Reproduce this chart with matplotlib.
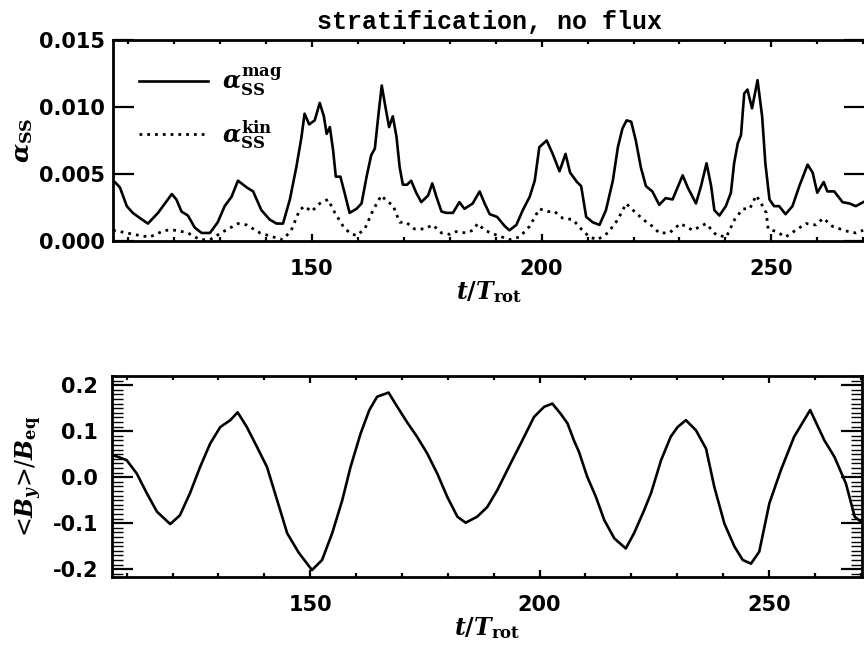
import numpy as np
import matplotlib
matplotlib.use("Agg")
import matplotlib.pyplot as plt
from matplotlib.ticker import MultipleLocator, FormatStrFormatter

# alpha_SS (magnetic), solid curve
t_mag = [106.7, 107.1, 108.2, 109.7, 111.0, 112.6, 114.3, 116.5, 118.0, 119.5,
         120.5, 121.6, 123.0, 124.5, 126.0, 127.8, 129.5, 131.0, 132.5, 133.9,
         135.8, 137.2, 139.0, 140.8, 142.3, 143.7, 145.2, 146.6, 147.7, 148.4,
         149.4, 150.6, 151.7, 152.6, 153.2, 153.9, 154.6, 155.2, 156.2, 157.1,
         158.2, 159.7, 160.8, 161.9, 162.9, 163.7, 164.5, 165.2, 166.0, 166.8,
         167.6, 168.4, 169.1, 169.8, 170.7, 171.6, 172.7, 173.8, 175.3, 176.2,
         177.1, 178.2, 179.2, 180.7, 182.1, 183.2, 185.0, 186.5, 187.6, 188.7,
         190.3, 192.0, 193.0, 194.5, 195.9, 197.4, 198.5, 199.5, 201.1, 202.4,
         203.9, 205.2, 206.2, 207.7, 208.6, 209.7, 211.1, 212.6, 214.0, 215.5,
         216.6, 217.6, 218.5, 219.5, 220.5, 221.6, 222.7, 224.1, 225.6, 227.0,
         228.5, 230.7, 231.8, 233.6, 234.7, 235.9, 236.9, 237.6, 238.7, 240.1,
         241.2, 241.9, 242.7, 243.4, 244.1, 244.8, 245.8, 247.0, 248.0, 248.7,
         249.6, 250.6, 251.7, 253.1, 254.6, 256.1, 257.9, 259.0, 260.0, 261.4,
         262.2, 263.7, 265.5, 267.0, 268.4, 270.0]
a_mag = [0.0043, 0.0044, 0.0040, 0.0026, 0.0021, 0.0017, 0.0013, 0.0021, 0.0028, 0.0035,
         0.0031, 0.0022, 0.0019, 0.0010, 0.0006, 0.0006, 0.0014, 0.0026, 0.0033, 0.0045,
         0.0040, 0.0037, 0.0023, 0.0016, 0.0013, 0.0013, 0.0031, 0.0055, 0.0077, 0.0095,
         0.0087, 0.0090, 0.0103, 0.0093, 0.0080, 0.0085, 0.0068, 0.0048, 0.0048, 0.0036,
         0.0021, 0.0024, 0.0028, 0.0048, 0.0064, 0.0069, 0.0095, 0.0116, 0.0100, 0.0085,
         0.0093, 0.0078, 0.0055, 0.0042, 0.0042, 0.0045, 0.0036, 0.0029, 0.0034, 0.0043,
         0.0033, 0.0022, 0.0021, 0.0021, 0.0029, 0.0024, 0.0028, 0.0037, 0.0028, 0.0020,
         0.0018, 0.0011, 0.0008, 0.0012, 0.0023, 0.0033, 0.0045, 0.0070, 0.0075, 0.0065,
         0.0052, 0.0065, 0.0051, 0.0044, 0.0041, 0.0018, 0.0014, 0.0012, 0.0023, 0.0045,
         0.0070, 0.0084, 0.0090, 0.0089, 0.0075, 0.0055, 0.0041, 0.0037, 0.0027, 0.0032,
         0.0031, 0.0049, 0.0040, 0.0028, 0.0041, 0.0058, 0.0041, 0.0023, 0.0019, 0.0026,
         0.0036, 0.0058, 0.0073, 0.0079, 0.0110, 0.0113, 0.0099, 0.0120, 0.0093, 0.0058,
         0.0031, 0.0026, 0.0026, 0.0020, 0.0026, 0.0041, 0.0057, 0.0051, 0.0036, 0.0044,
         0.0037, 0.0037, 0.0029, 0.0028, 0.0026, 0.0029]

# alpha_SS (kinetic), dotted curve
t_kin = [106.7, 109.7, 112.6, 114.7, 118.0, 120.5, 123.0, 125.6, 127.8, 130.7,
         133.9, 135.8, 138.7, 141.6, 143.7, 145.5, 147.3, 148.4, 149.9, 151.7,
         153.5, 155.0, 156.8, 158.2, 159.7, 161.5, 163.3, 165.1, 166.5, 167.6,
         169.1, 170.5, 172.3, 174.5, 176.3, 178.2, 180.0, 181.4, 183.6, 185.0,
         186.1, 187.6, 190.1, 193.0, 195.2, 197.4, 199.5, 201.3, 202.8, 204.6,
         206.8, 208.6, 210.4, 212.2, 214.4, 216.6, 218.4, 219.9, 222.1, 224.1,
         225.6, 227.8, 230.2, 232.9, 235.8, 238.0, 240.2, 242.0, 243.8, 245.3,
         246.7, 247.8, 248.9, 249.3, 251.1, 253.1, 255.3, 257.5, 259.7, 261.3,
         263.3, 266.2, 268.4, 270.0]
a_kin = [0.0008, 0.0006, 0.0004, 0.0003, 0.0008, 0.0008, 0.0006, 0.0001, 0.0001, 0.0007,
         0.0013, 0.0012, 0.0006, 0.0003, 0.0001, 0.0008, 0.0023, 0.0026, 0.0022, 0.0028,
         0.0031, 0.0021, 0.0011, 0.0006, 0.0004, 0.0009, 0.0023, 0.0034, 0.0029, 0.0027,
         0.0014, 0.0014, 0.0009, 0.0009, 0.0012, 0.0006, 0.0005, 0.0007, 0.0006, 0.0008,
         0.0013, 0.0008, 0.00045, 0.0001, 0.0003, 0.0011, 0.0024, 0.0022, 0.0022, 0.0017,
         0.0016, 0.0009, 0.0003, 0.0001, 0.0006, 0.0016, 0.0028, 0.0023, 0.0016, 0.0011,
         0.0006, 0.0006, 0.0013, 0.0008, 0.0013, 0.00045, 0.0003, 0.0016, 0.0024, 0.0024,
         0.0034, 0.0028, 0.0021, 0.0009, 0.0007, 0.0003, 0.0008, 0.0013, 0.0012, 0.0017,
         0.0011, 0.00075, 0.0006, 0.0008]

# <B_y>/B_eq
t_by = [106.8, 108.2, 110.0, 112.2, 114.4, 116.6, 119.5, 121.6, 123.8, 126.0,
        128.2, 130.4, 132.6, 134.2, 136.2, 138.4, 140.6, 142.8, 145.0, 147.5,
        150.4, 152.6, 154.8, 157.0, 158.8, 161.0, 162.9, 164.6, 167.1, 169.0,
        171.1, 173.3, 175.5, 177.7, 179.9, 182.1, 183.9, 186.4, 188.6, 190.8,
        193.7, 195.9, 198.8, 201.0, 202.8, 204.6, 206.1, 207.5, 208.6, 210.4,
        212.3, 214.1, 216.3, 218.8, 220.6, 222.8, 224.3, 226.5, 228.6, 230.1,
        231.9, 234.1, 236.3, 238.1, 240.3, 242.5, 244.3, 246.1, 247.9, 250.1,
        252.6, 255.5, 259.0, 262.1, 264.3, 266.8, 268.7, 270.5]
by = [0.048, 0.044, 0.037, 0.008, -0.035, -0.075, -0.102, -0.083, -0.035, 0.022,
      0.073, 0.109, 0.124, 0.141, 0.109, 0.066, 0.022, -0.050, -0.122, -0.164,
      -0.202, -0.180, -0.122, -0.050, 0.022, 0.095, 0.146, 0.175, 0.184, 0.153,
      0.120, 0.088, 0.052, 0.008, -0.043, -0.086, -0.099, -0.086, -0.065, -0.028,
      0.030, 0.073, 0.131, 0.153, 0.160, 0.138, 0.117, 0.080, 0.055, 0.001,
      -0.043, -0.093, -0.133, -0.155, -0.122, -0.072, -0.035, 0.037, 0.088, 0.109,
      0.124, 0.102, 0.062, -0.021, -0.101, -0.151, -0.180, -0.188, -0.162, -0.057,
      0.015, 0.088, 0.146, 0.080, 0.044, -0.014, -0.086, -0.100]

plt.rcParams['font.family'] = ['DejaVu Sans']
plt.rcParams['font.weight'] = 'bold'
plt.rcParams['mathtext.fontset'] = 'custom'
plt.rcParams['mathtext.it'] = 'DejaVu Serif:italic:bold'
plt.rcParams['mathtext.rm'] = 'DejaVu Serif:bold'
plt.rcParams['mathtext.bf'] = 'DejaVu Serif:bold'

fig = plt.figure(figsize=(8.64, 6.51), dpi=100)
ax1 = fig.add_axes([0.1308, 0.6298, 0.8704, 0.3088])
ax2 = fig.add_axes([0.1296, 0.1137, 0.8681, 0.3087])

lw = 1.9
ax1.plot(t_mag, a_mag, color='black', lw=lw, label=r'$\alpha_{\mathrm{SS}}^{\mathrm{mag}}$')
ax1.plot(t_kin, a_kin, color='black', lw=2.0, linestyle=(0, (1, 1.8)),
         label=r'$\alpha_{\mathrm{SS}}^{\mathrm{kin}}$')
ax1.set_xlim(106.7, 270.4)
ax1.set_ylim(0, 0.015)
ax1.yaxis.set_major_locator(MultipleLocator(0.005))
ax1.yaxis.set_major_formatter(FormatStrFormatter('%.3f'))
ax1.set_ylabel(r'$\alpha_{\mathrm{SS}}$', fontsize=18, labelpad=3)
ax1.set_title('stratification, no flux', family='Liberation Mono', fontweight='bold',
              fontsize=18, pad=8)
ax1.legend(loc='upper left', frameon=False, fontsize=17, handlelength=2.9,
           handletextpad=0.6, labelspacing=0.85, borderaxespad=0.4,
           bbox_to_anchor=(0.01, 0.965))

ax2.plot(t_by, by, color='black', lw=lw)
ax2.set_xlim(106.8, 270.3)
ax2.set_ylim(-0.217, 0.22)
ax2.yaxis.set_major_locator(MultipleLocator(0.1))
ax2.yaxis.set_minor_locator(MultipleLocator(0.01))
ax2.yaxis.set_major_formatter(FormatStrFormatter('%.1f'))
ax2.set_ylabel(r'<$B_y$>/$B_{\mathrm{eq}}$', fontsize=17, labelpad=6)

for ax in (ax1, ax2):
    ax.xaxis.set_major_locator(MultipleLocator(50))
    ax.xaxis.set_minor_locator(MultipleLocator(10))
    ax.set_xlabel(r'$t/T_{\mathrm{rot}}$', fontsize=17, labelpad=0)
    for s in ax.spines.values():
        s.set_linewidth(2.0)
    ax.tick_params(axis='both', which='both', direction='in', top=True, right=True,
                   labelsize=15, width=1.6)
    ax.tick_params(axis='x', which='major', length=5, pad=13)
    ax.tick_params(axis='x', which='minor', length=3)
    ax.tick_params(axis='y', which='major', length=15, pad=6)
    ax.tick_params(axis='y', which='minor', length=8, width=1.0)
    for lab in ax.get_xticklabels() + ax.get_yticklabels():
        lab.set_fontweight('bold')
ax2.tick_params(axis='y', which='major', pad=10)

fig.savefig('out.png', dpi=100)
